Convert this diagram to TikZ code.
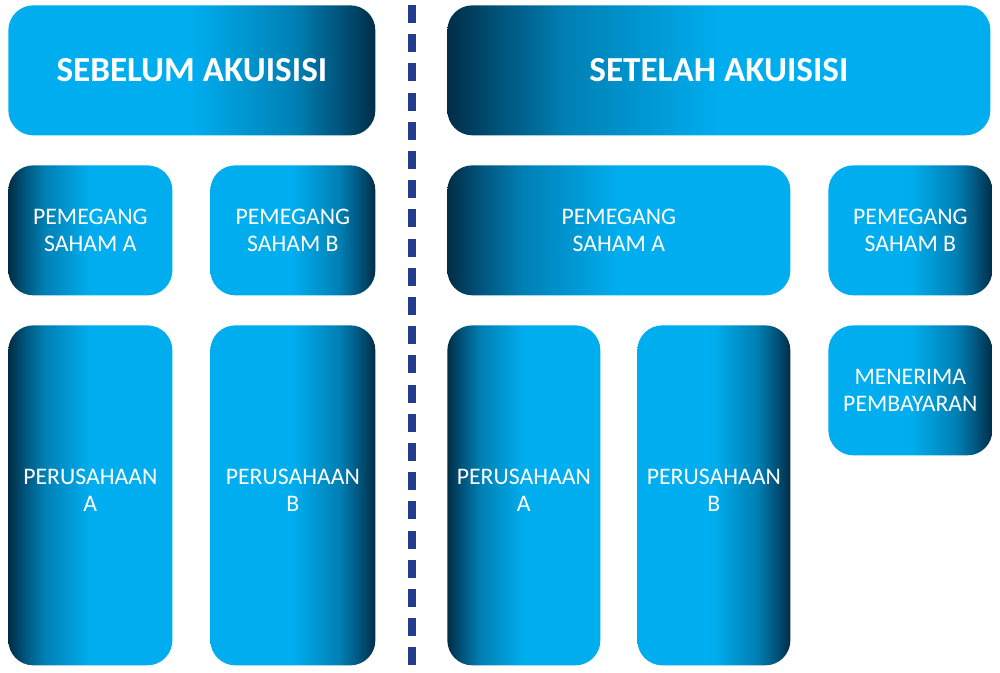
\documentclass[tikz,border=0pt]{standalone}
\usepackage{fontspec}
\setmainfont{Carlito}
\usepackage{xcolor}
\usetikzlibrary{positioning,calc}

\definecolor{bxcyan}{RGB}{0,173,238}
\definecolor{bxmidA}{RGB}{0,85,125}
\definecolor{bxmidB}{RGB}{0,128,180}
\definecolor{bxdark}{RGB}{0,45,70}
\definecolor{divline}{RGB}{36,60,140}

\pgfdeclarehorizontalshading{fadeL}{100bp}{color(0bp)=(bxdark); color(25bp)=(bxdark);
  color(30bp)=(bxmidA); color(36bp)=(bxmidB); color(50bp)=(bxcyan); color(100bp)=(bxcyan)}
\pgfdeclarehorizontalshading{fadeR}{100bp}{color(0bp)=(bxcyan); color(50bp)=(bxcyan);
  color(64bp)=(bxmidB); color(70bp)=(bxmidA); color(75bp)=(bxdark); color(100bp)=(bxdark)}

\begin{document}
\begin{tikzpicture}[main node/.style={shade, rounded corners=0.5cm, align=center,
        text=white, inner sep=0pt, anchor=north west, minimum height=2.6cm,
        font=\fontsize{13.5}{15.2}\selectfont},
    tall node/.style={main node, minimum height=6.8cm, text depth=0.2cm},
    title node/.style={main node, font=\fontsize{20}{23}\selectfont\bfseries}]

\useasboundingbox (0,0) rectangle (20,-13.46);

\node[title node, shading=fadeR, minimum width=7.34cm] (1) at (0.16,-0.1) {SEBELUM AKUISISI};
\node[title node, shading=fadeL, minimum width=10.86cm] (2) at (8.94,-0.1) {SETELAH AKUISISI};

\node[main node, shading=fadeL, minimum width=3.28cm] (3) at (0.16,-3.3) {PEMEGANG\\SAHAM A};
\node[main node, shading=fadeR, minimum width=3.3cm] (4) at (4.2,-3.3) {PEMEGANG\\SAHAM B};
\node[tall node, shading=fadeL, minimum width=3.28cm] (5) at (0.16,-6.5) {PERUSAHAAN\\A};
\node[tall node, shading=fadeR, minimum width=3.3cm] (6) at (4.2,-6.5) {PERUSAHAAN\\B};

\node[main node, shading=fadeL, minimum width=6.86cm] (7) at (8.94,-3.3) {PEMEGANG\\SAHAM A};
\node[main node, shading=fadeR, minimum width=3.28cm] (8) at (16.56,-3.3) {PEMEGANG\\SAHAM B};
\node[tall node, shading=fadeL, minimum width=3.06cm] (9) at (8.94,-6.5) {PERUSAHAAN\\A};
\node[tall node, shading=fadeR, minimum width=3.06cm] (10) at (12.74,-6.5) {PERUSAHAAN\\B};
\node[main node, shading=fadeR, minimum width=3.28cm] (11) at (16.56,-6.5) {MENERIMA\\PEMBAYARAN};

\coordinate (top) at (8.24,-0.1);
\coordinate (bot) at (8.24,-13.3);
\draw[divline, line width=4.5pt, dash pattern=on 0.36cm off 0.224cm] (top) -- (bot);

\end{tikzpicture}
\end{document}
